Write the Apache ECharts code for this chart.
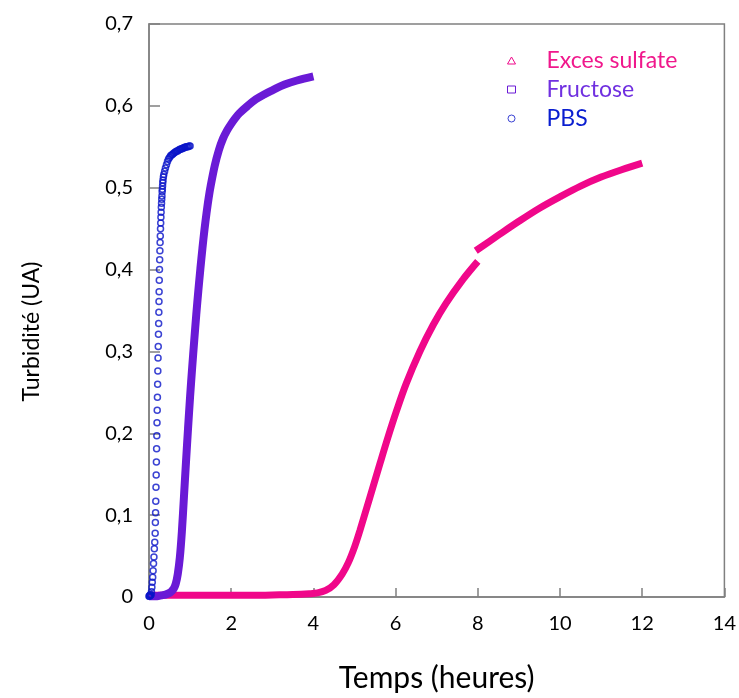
<!DOCTYPE html>
<html>
<head>
<meta charset="utf-8">
<script src="https://cdn.jsdelivr.net/npm/echarts@6/dist/echarts.min.js"></script>
<style>html,body{margin:0;padding:0;background:#fff;overflow:hidden;}#c{width:739px;height:698px;}</style>
</head>
<body>
<div id="c"></div>
<script>
// ---- data ----
const seriesNames = ['Exces sulfate', 'Fructose', 'PBS'];
const xTickLabels = ['0', '2', '4', '6', '8', '10', '12', '14'];
const yTickLabels = ['0', '0,1', '0,2', '0,3', '0,4', '0,5', '0,6', '0,7'];

// Exces sulfate: two segments (gap near t = 8 h)
const sulfateLower = [
  [0, 0.002], [0.5, 0.002], [1, 0.002], [1.5, 0.002], [2, 0.002], [2.5, 0.002], [3, 0.0025], [3.5, 0.003],
  [3.9, 0.004], [4.1, 0.005], [4.3, 0.008], [4.5, 0.015], [4.7, 0.028], [4.85, 0.042], [5.0, 0.061],
  [5.13, 0.081], [5.37, 0.121], [5.62, 0.163], [5.82, 0.196], [6.02, 0.227], [6.26, 0.261],
  [6.59, 0.300], [6.91, 0.332], [7.23, 0.359], [7.64, 0.388], [8.0, 0.410]
];
const sulfateUpper = [
  [7.95, 0.423], [8.5, 0.442], [9.0, 0.459], [9.5, 0.475], [10, 0.489],
  [10.5, 0.502], [11, 0.513], [11.5, 0.522], [12, 0.530]
];

const fructose = [
  [0, 0.001], [0.1, 0.001], [0.2, 0.001], [0.3, 0.002], [0.4, 0.003], [0.5, 0.005], [0.55, 0.007],
  [0.6, 0.010], [0.65, 0.016], [0.7, 0.028], [0.75, 0.048], [0.8, 0.080], [0.85, 0.122], [0.9, 0.165],
  [0.95, 0.206], [1.0, 0.245], [1.05, 0.280], [1.1, 0.313], [1.15, 0.345], [1.2, 0.374], [1.25, 0.401],
  [1.3, 0.426], [1.35, 0.449], [1.4, 0.469], [1.45, 0.487], [1.5, 0.502], [1.6, 0.527], [1.7, 0.546],
  [1.8, 0.560], [1.9, 0.570], [2.0, 0.578], [2.1, 0.585], [2.2, 0.591], [2.4, 0.600], [2.6, 0.608],
  [2.8, 0.614], [3.0, 0.619], [3.3, 0.626], [3.6, 0.631], [4.0, 0.636]
];

const pbs = [
  [0.0, 0.001], [0.01, 0.001], [0.02, 0.002], [0.03, 0.002], [0.04, 0.002], [0.05, 0.003],
  [0.06, 0.0065], [0.07, 0.012], [0.08, 0.018], [0.09, 0.024], [0.10, 0.032], [0.11, 0.041],
  [0.12, 0.049], [0.13, 0.059], [0.14, 0.067], [0.15, 0.078], [0.155, 0.091], [0.16, 0.103],
  [0.165, 0.117], [0.17, 0.134], [0.175, 0.149], [0.18, 0.165], [0.185, 0.181], [0.19, 0.197],
  [0.195, 0.213], [0.20, 0.228], [0.205, 0.244], [0.21, 0.260], [0.215, 0.276], [0.22, 0.292],
  [0.225, 0.306], [0.23, 0.321], [0.235, 0.334], [0.24, 0.348], [0.243, 0.361], [0.246, 0.373],
  [0.25, 0.387], [0.255, 0.400], [0.26, 0.412], [0.265, 0.423], [0.27, 0.433], [0.275, 0.441],
  [0.28, 0.450], [0.285, 0.457], [0.29, 0.464], [0.295, 0.470], [0.30, 0.476], [0.305, 0.481],
  [0.31, 0.486], [0.315, 0.490], [0.32, 0.495], [0.325, 0.498], [0.33, 0.502], [0.335, 0.506],
  [0.34, 0.509], [0.35, 0.513], [0.36, 0.516], [0.38, 0.520], [0.40, 0.524], [0.425, 0.528],
  [0.45, 0.532], [0.475, 0.535], [0.50, 0.537], [0.525, 0.539], [0.55, 0.540], [0.575, 0.541],
  [0.60, 0.542], [0.625, 0.543], [0.65, 0.544], [0.675, 0.545], [0.70, 0.545], [0.725, 0.546],
  [0.75, 0.547], [0.775, 0.547], [0.80, 0.548], [0.825, 0.548], [0.85, 0.549], [0.875, 0.549],
  [0.90, 0.550], [0.925, 0.550], [0.95, 0.550], [0.975, 0.551], [1.0, 0.551]
];

// ---- styling ----
const colors = ['#f0078a', '#6a1ad6', '#0a14c8'];
const textColors = ['#f0188c', '#7030e0', '#0a1ed0'];
const FONT = 'Lato, "Open Sans", sans-serif';
const axisGray = '#808080';

const chart = echarts.init(document.getElementById('c'), null, { renderer: 'canvas', width: 739, height: 698 });

const sulfateData = sulfateLower.concat([[8.0, '-']], sulfateUpper);

chart.setOption({
  animation: false,
  backgroundColor: '#fff',
  grid: { left: 149, right: 14, top: 24, bottom: 98, show: true, borderColor: axisGray, borderWidth: 1.5, backgroundColor: 'transparent' },
  legend: {
    orient: 'vertical', left: 502, top: 44, itemWidth: 8, itemHeight: 7, itemGap: 6,
    textStyle: { fontFamily: FONT, fontSize: 23, padding: [0, 0, 0, 26] },
    data: [
      { name: seriesNames[0], icon: 'triangle', itemStyle: { color: 'transparent', borderColor: colors[0], borderWidth: 1 }, textStyle: { color: textColors[0] } },
      { name: seriesNames[1], icon: 'rect', itemStyle: { color: 'transparent', borderColor: colors[1], borderWidth: 1 }, textStyle: { color: textColors[1] } },
      { name: seriesNames[2], icon: 'circle', itemStyle: { color: 'transparent', borderColor: colors[2], borderWidth: 1 }, textStyle: { color: textColors[2] } }
    ]
  },
  xAxis: {
    type: 'value', min: 0, max: 14, interval: 2,
    name: 'Temps (heures)', nameLocation: 'middle', nameGap: 66,
    nameTextStyle: { fontFamily: FONT, fontSize: 30, lineHeight: 30, color: '#000' },
    axisLine: { show: true, onZero: false, lineStyle: { color: axisGray, width: 1.5 } },
    axisTick: { show: true, inside: true, length: 9, lineStyle: { color: axisGray, width: 1.5 } },
    axisLabel: { fontFamily: FONT, fontSize: 20, color: '#000', margin: 17,
      formatter: (v) => xTickLabels[Math.round(v / 2)] },
    splitLine: { show: false }
  },
  yAxis: {
    type: 'value', min: 0, max: 0.7, interval: 0.1,
    name: 'Turbidité (UA)', nameLocation: 'middle', nameGap: 106,
    nameTextStyle: { fontFamily: FONT, fontSize: 23, color: '#000', padding: [0, 42, 0, 0] },
    axisLine: { show: true, onZero: false, lineStyle: { color: axisGray, width: 1.5 } },
    axisTick: { show: true, inside: true, length: 11, lineStyle: { color: axisGray, width: 1.5 } },
    axisLabel: { fontFamily: FONT, fontSize: 20, color: '#000', margin: 16,
      formatter: (v) => yTickLabels[Math.round(v * 10)] },
    splitLine: { show: false }
  },
  series: [
    {
      name: seriesNames[0], type: 'line', data: sulfateData, smooth: 0.35, showSymbol: false,
      connectNulls: false, lineStyle: { color: colors[0], width: 7 }, itemStyle: { color: colors[0] }, z: 2
    },
    {
      name: seriesNames[1], type: 'line', data: fructose, smooth: 0.35, showSymbol: false,
      lineStyle: { color: colors[1], width: 8 }, itemStyle: { color: colors[1] }, z: 3
    },
    {
      name: seriesNames[2], type: 'scatter', data: pbs, symbol: 'circle', symbolSize: 6,
      itemStyle: { color: 'transparent', borderColor: colors[2], borderWidth: 1.5 }, z: 4
    }
  ]
});
</script>
</body>
</html>
